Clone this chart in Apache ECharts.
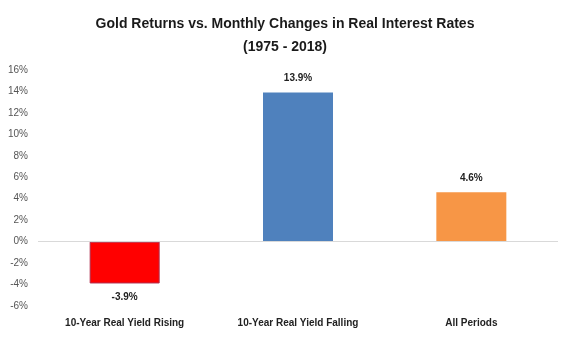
<!DOCTYPE html>
<html><head><meta charset="utf-8">
<script src="https://cdn.jsdelivr.net/npm/echarts@6/dist/echarts.min.js"></script>
<style>html,body{margin:0;padding:0;background:#fff}#c{width:570px;height:337px}</style>
</head><body><div id="c"></div>
<script>
const categories = ["10-Year Real Yield Rising", "10-Year Real Yield Falling", "All Periods"];
const values = [-3.9, 13.9, 4.6];
const barColors = ["#FF0000", "#4F81BD", "#F79646"];
const yTicks = [-6, -4, -2, 0, 2, 4, 6, 8, 10, 12, 14, 16];

const chart = echarts.init(document.getElementById('c'), null, {renderer: 'canvas'});
chart.setOption({
  animation: false,
  title: {
    text: "Gold Returns vs. Monthly Changes in Real Interest Rates\n(1975 - 2018)",
    left: 'center', top: 8,
    textStyle: {fontFamily: 'Liberation Sans', fontWeight: 'bold', fontSize: 14, color: '#1a1a1a', lineHeight: 23}
  },
  grid: {left: 38, right: 12, top: 70, bottom: 31},
  xAxis: {
    type: 'category', data: categories,
    axisLine: {show: false, onZero: false}, axisTick: {show: false},
    axisLabel: {fontFamily: 'Liberation Sans', fontWeight: 'bold', fontSize: 10, color: '#222', margin: 12}
  },
  yAxis: {
    type: 'value', min: yTicks[0], max: yTicks[yTicks.length - 1], interval: 2,
    splitLine: {show: false}, axisLine: {show: false}, axisTick: {show: false},
    axisLabel: {formatter: v => v + '%', fontFamily: 'Liberation Sans', fontSize: 10, color: '#555', margin: 10}
  },
  series: [{
    type: 'bar', barWidth: 70,
    data: values.map((v, i) => ({value: v, itemStyle: {color: barColors[i], borderColor: i === 0 ? '#b03050' : barColors[i], borderWidth: i === 0 ? 1 : 0}})),
    label: {show: true, position: 'outside', formatter: p => p.value.toFixed(1) + '%',
      fontFamily: 'Liberation Sans', fontWeight: 'bold', fontSize: 10, color: '#222', distance: 9},
    markLine: {silent: true, symbol: 'none', label: {show: false},
      lineStyle: {color: '#d9d9d9', width: 1, type: 'solid'}, data: [{yAxis: 0}]}
  }]
});
</script></body></html>
